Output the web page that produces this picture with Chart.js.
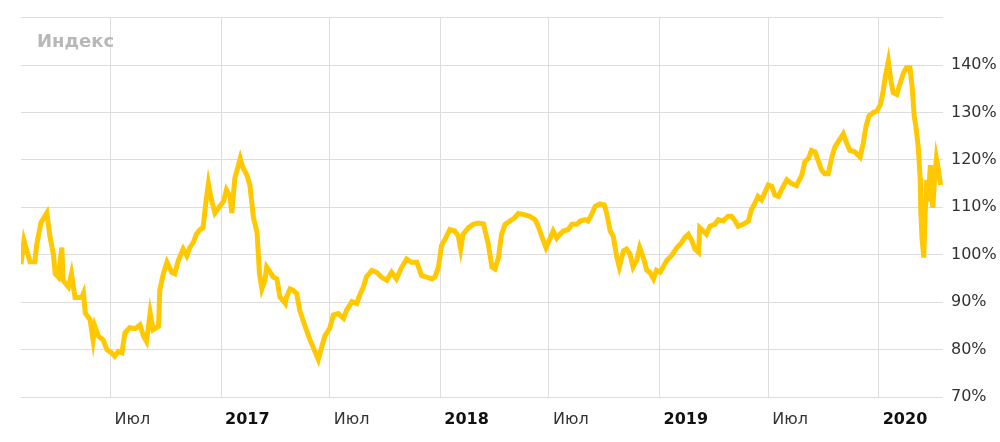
<!DOCTYPE html>
<html>
<head>
<meta charset="utf-8">
<script src="https://cdn.jsdelivr.net/npm/chart.js@4.4.1/dist/chart.umd.min.js"></script>
<style>
  body { margin: 0; background: #fff; }
  #wrap { position: relative; width: 1000px; height: 442px; }
  #title {
    position: absolute; left: 37px; top: 32px;
    font: bold 18px "DejaVu Sans", sans-serif; line-height: 18px;
    color: #b8b8b8;
  }
</style>
</head>
<body>
<div id="wrap">
  <canvas id="chartIndex"></canvas>
  <div id="title">Индекс</div>
</div>
<script>
// дни с 1 января 2016
const days = [
  33, 38, 48, 56, 59, 66, 76, 81, 87, 90,
  95, 101, 103, 112, 117, 123, 134, 137, 140, 148,
  153, 156, 162, 170, 176, 184, 189, 195, 201, 206,
  214, 223, 231, 237, 242, 248, 253, 262, 264, 270,
  276, 284, 289, 295, 303, 309, 314, 320, 325, 331,
  336, 341, 345, 350, 356, 364, 370, 375, 381, 384,
  389, 395, 398, 402, 409, 414, 420, 426, 430, 434,
  439, 442, 448, 453, 459, 464, 473, 475, 481, 486,
  492, 497, 506, 514, 520, 528, 534, 539, 547, 553,
  561, 570, 575, 584, 592, 597, 603, 608, 617, 625,
  633, 642, 650, 658, 667, 675, 683, 692, 700, 708,
  717, 722, 728, 733, 739, 747, 755, 761, 765, 769,
  778, 786, 794, 803, 811, 817, 822, 828, 833, 839,
  847, 855, 861, 869, 880, 889, 894, 900, 907, 914,
  919, 925, 930, 936, 944, 950, 958, 964, 972, 977,
  983, 989, 997, 1004, 1008, 1014, 1019, 1025, 1029, 1036,
  1041, 1047, 1052, 1058, 1063, 1069, 1075, 1080, 1086, 1091,
  1097, 1102, 1108, 1116, 1125, 1133, 1138, 1144, 1150, 1155,
  1161, 1163, 1169, 1174, 1180, 1188, 1194, 1202, 1210, 1216,
  1222, 1227, 1235, 1244, 1249, 1255, 1260, 1266, 1272, 1277,
  1283, 1288, 1294, 1299, 1308, 1316, 1324, 1333, 1338, 1344,
  1349, 1355, 1360, 1366, 1371, 1377, 1383, 1388, 1395, 1402,
  1408, 1413, 1421, 1430, 1435, 1440, 1445, 1452, 1458, 1464,
  1468, 1472, 1477, 1481, 1485, 1491, 1496, 1502, 1507, 1513,
  1517, 1520, 1523, 1527, 1530, 1531, 1533, 1536, 1538, 1541,
  1543, 1547, 1551, 1554, 1557, 1560, 1564
];

// индекс, %
const indexValues = [
  98, 103, 98.5, 98.5, 102, 106.7, 108.8, 104, 100, 96,
  95.3, 101.5, 94.6, 93.2, 96, 91, 91, 91.9, 87.7, 86.3,
  82, 84.9, 82.8, 82, 80, 79.3, 78.6, 79.6, 79.3, 83.5,
  84.6, 84.4, 85.2, 82.8, 81.7, 87.7, 84.2, 84.9, 92.5, 96,
  98.4, 96.3, 96, 98.8, 101.2, 99.8, 101.5, 102.6, 104.3, 105.3,
  105.7, 111.2, 115, 111.6, 108.8, 110.2, 111.2, 113.7, 112.3, 108.8,
  116.1, 118.9, 120.3, 118.5, 116.8, 114.7, 107.8, 104.7, 96, 92.8,
  94.6, 97.4, 96.3, 95.3, 94.9, 91.1, 89.7, 91.1, 92.8, 92.5,
  91.8, 88.3, 84.9, 82.1, 80.3, 77.9, 80.7, 82.9, 84.5, 87.3,
  87.6, 86.6, 88.3, 90.1, 89.7, 91.5, 93.2, 95.3, 96.7, 96.3,
  95.3, 94.6, 96.3, 94.9, 97.4, 99.1, 98.4, 98.4, 95.6, 95.3,
  94.9, 95.3, 97.4, 101.9, 103.3, 105.3, 105, 104, 101.2, 104.3,
  105.7, 106.4, 106.7, 106.5, 102.2, 97.4, 97, 99.4, 104.3, 106.4,
  107.1, 107.8, 108.7, 108.5, 108.1, 107.4, 106, 103.9, 101.5, 103.5,
  105, 103.5, 104.3, 105, 105.3, 106.4, 106.4, 107.1, 107.4, 107.1,
  108.5, 110.2, 110.7, 110.5, 108.8, 105, 103.9, 99.4, 97.4, 100.8,
  101.2, 100.1, 97.4, 98.8, 101.5, 99.4, 96.7, 96.3, 94.9, 96.7,
  96.3, 97.4, 98.8, 99.8, 101.5, 102.6, 103.6, 104.3, 102.9, 101.2,
  100.5, 105.7, 105, 104.3, 106, 106.4, 107.4, 107.1, 108.1, 108.1,
  107.1, 106, 106.4, 107.1, 109.5, 110.9, 112.3, 111.6, 113.3, 114.7,
  114.4, 112.6, 112.3, 113.7, 115.8, 115, 114.6, 116.8, 119.6, 120.3,
  122, 121.7, 119.9, 117.8, 117.1, 117.1, 120.6, 122.7, 124.1, 125.5,
  123.4, 122, 121.7, 120.6, 123.4, 127.2, 129.3, 130, 130.3, 131.7,
  134.2, 137.6, 140.8, 137, 134.2, 133.8, 135.9, 138.3, 139.4, 139.4,
  134.9, 129.3, 126.9, 122.4, 116.1, 109.2, 103.6, 99.4, 107.8, 115.8,
  111.2, 118.9, 109.9, 116.1, 120.3, 118.2, 114.7
];

// подписи оси X
const tickDays = [182, 366, 547, 731, 912, 1096, 1277, 1461];
const tickLabels = ['Июл', '2017', 'Июл', '2018', 'Июл', '2019', 'Июл', '2020'];

const points = days.map((d, i) => ({ x: d, y: indexValues[i] }));

const ctx = document.getElementById('chartIndex').getContext('2d');

new Chart(ctx, {
  type: 'line',
  data: {
    datasets: [{
      data: points,
      borderColor: '#ffc800',
      borderWidth: 5,
      pointRadius: 0,
      tension: 0,
      fill: false
    }]
  },
  options: {
    responsive: true,
    maintainAspectRatio: false,
    animation: false,
    layout: {
      padding: { left: 21, top: 12, right: 0, bottom: 0 }
    },
    plugins: {
      legend: { display: false },
      tooltip: { enabled: false }
    },
    scales: {
      x: {
        type: 'linear',
        min: 33,
        max: 1568,
        afterBuildTicks: scale => {
          scale.ticks = tickDays.map(v => ({ value: v }));
        },
        afterFit: scale => { scale.height = 45; },
        grid: { color: '#dddddd', drawTicks: false },
        border: { display: false },
        ticks: {
          autoSkip: false,
          maxRotation: 0,
          align: 'start',
          labelOffset: 4,
          padding: 13,
          color: ctx => (ctx.index % 2 ? '#111' : '#333'),
          font: ctx => ({
            family: 'DejaVu Sans',
            size: 16,
            weight: ctx.index % 2 ? 'bold' : 'normal'
          }),
          callback: (v, i) => tickLabels[i]
        }
      },
      y: {
        position: 'right',
        min: 70,
        max: 150,
        afterFit: scale => { scale.width = 57; },
        grid: { color: '#dddddd', drawTicks: false },
        border: { display: false },
        ticks: {
          stepSize: 10,
          padding: 8,
          color: '#333',
          font: { family: 'DejaVu Sans', size: 16 },
          callback: v => (v === 150 ? '' : v + '%')
        }
      }
    }
  }
});
</script>
</body>
</html>
